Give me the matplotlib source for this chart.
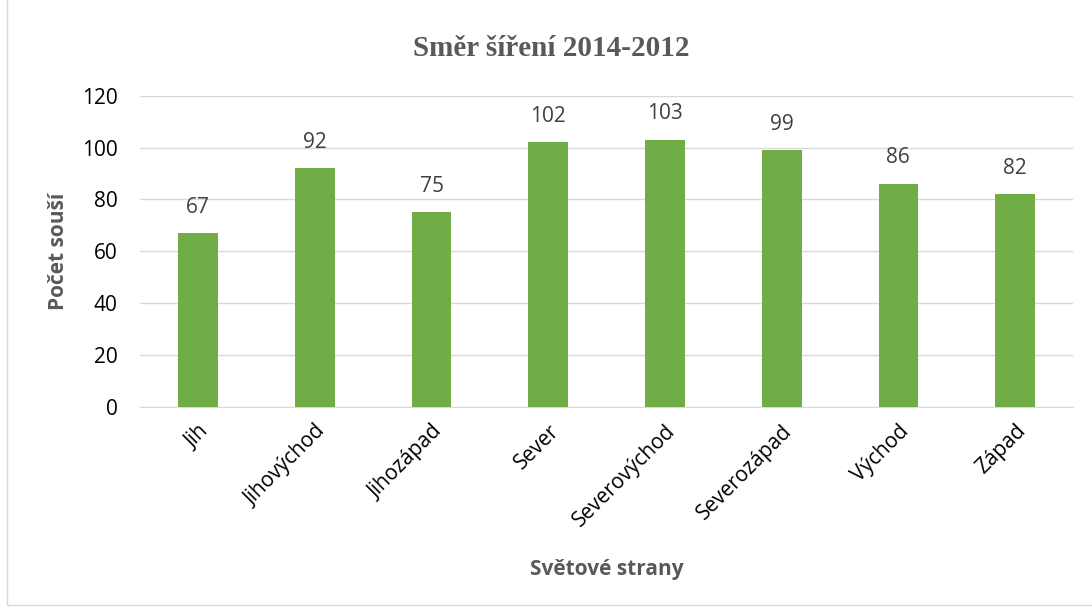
import matplotlib.pyplot as plt
from matplotlib.patches import Rectangle

# data
strany = ["Jih", "Jihovýchod", "Jihozápad", "Sever", "Severovýchod",
          "Severozápad", "Východ", "Západ"]
pocty = [67, 92, 75, 102, 103, 99, 86, 82]

plt.rcParams['font.family'] = ['Open Sans', 'DejaVu Sans']

fig = plt.figure(figsize=(10.92, 6.10), dpi=100)
ax = fig.add_axes([0.128, 0.333, 0.855, 0.510])

x = range(len(strany))
bars = ax.bar(x, pocty, width=0.34, color='#70AD47', zorder=3)
for b, v in zip(bars, pocty):
    ax.text(b.get_x() + b.get_width() / 2, v + 6, str(v), ha='center',
            va='bottom', fontsize=15, color='#404040')

ax.set_xlim(-0.5, len(strany) - 0.5)
ax.set_ylim(0, 120)
ax.set_yticks(range(0, 121, 20))
ax.yaxis.grid(True, color='#D9D9D9', linewidth=1, zorder=0)
for s in ['top', 'right', 'left']:
    ax.spines[s].set_visible(False)
ax.spines['bottom'].set_color('#D9D9D9')
ax.tick_params(axis='both', length=0, labelsize=15, colors='black')
ax.tick_params(axis='y', pad=16)
ax.tick_params(axis='x', pad=10)
ax.set_xticks(list(x))
ax.set_xticklabels(strany, rotation=45, ha='right', rotation_mode='anchor')

ax.set_ylabel("Počet souší", fontsize=15, fontweight='bold', color='#595959',
              labelpad=9)
ax.set_xlabel("Světové strany", fontsize=15, fontweight='bold', color='#595959',
              labelpad=20)
fig.text(0.505, 0.92, "Směr šíření 2014-2012", ha='center', va='center',
         fontsize=21, fontweight='bold', color='#595959',
         family=['Liberation Serif', 'DejaVu Serif'])

# frame of the chart area
fig.patches.append(Rectangle((0.0065, 0.008), 1.2, 1.2, transform=fig.transFigure,
                             fill=False, edgecolor='#D9D9D9', linewidth=1))

fig.savefig('out.png', dpi=100)
